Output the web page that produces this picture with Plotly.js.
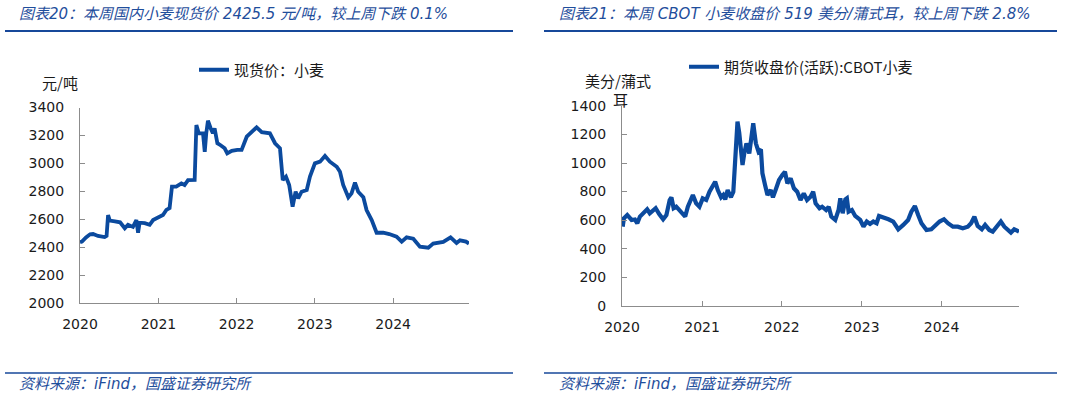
<!DOCTYPE html>
<html>
<head>
<meta charset="utf-8">
<script src="https://cdn.plot.ly/plotly-3.0.1.min.js"></script>
<style>
html,body{margin:0;padding:0;background:#fff;}
#chart{width:1065px;height:398px;}
</style>
</head>
<body>
<div id="chart"></div>
<script>
// ---- Data ----
const yearTicks = ["2020-01-01","2021-01-01","2022-01-01","2023-01-01","2024-01-01"];
const yearLabels = ["2020","2021","2022","2023","2024"];

const spotDates = [
"2020-01-01","2020-01-10","2020-01-29","2020-02-17","2020-03-02","2020-03-25","2020-04-25","2020-05-04","2020-05-11","2020-05-19",
"2020-06-12","2020-07-06","2020-07-28","2020-08-12","2020-09-04","2020-09-20","2020-09-28","2020-10-05","2020-10-29","2020-11-21",
"2020-12-07","2020-12-30","2021-01-22","2021-02-07","2021-02-22","2021-03-05","2021-03-25","2021-04-18","2021-05-03","2021-05-19",
"2021-06-19","2021-06-27","2021-07-08","2021-07-28","2021-08-05","2021-08-12","2021-08-20","2021-09-02","2021-09-12","2021-09-20",
"2021-10-03","2021-10-18","2021-11-06","2021-11-18","2021-12-09","2022-01-04","2022-01-24","2022-02-17","2022-03-12","2022-04-04",
"2022-04-28","2022-06-05","2022-06-29","2022-07-22","2022-08-04","2022-08-19","2022-09-03","2022-09-19","2022-10-03","2022-10-15",
"2022-10-31","2022-11-24","2022-12-09","2023-01-01","2023-01-25","2023-02-17","2023-03-12","2023-04-13","2023-04-28","2023-05-13",
"2023-06-06","2023-06-21","2023-07-07","2023-07-22","2023-08-15","2023-08-30","2023-09-23","2023-10-16","2023-11-16","2023-12-14",
"2024-01-17","2024-02-10","2024-03-04","2024-04-04","2024-05-05","2024-06-13","2024-07-06","2024-07-29","2024-08-22","2024-09-25",
"2024-10-23","2024-11-08","2024-12-06","2024-12-20"];
const spotValues = [
2435,2440,2470,2492,2494,2480,2472,2480,2630,2590,
2585,2578,2535,2560,2545,2594,2503,2575,2572,2560,
2594,2610,2630,2666,2680,2833,2833,2857,2845,2880,
2881,3275,3215,3215,3083,3215,3306,3250,3215,3250,
3144,3130,3108,3072,3090,3096,3096,3191,3227,3258,
3223,3215,3144,3108,2881,2905,2845,2690,2797,2750,
2797,2809,2905,3000,3012,3053,3012,2976,2940,2845,
2757,2785,2862,2797,2757,2666,2594,2503,2503,2494,
2475,2439,2470,2460,2403,2396,2425,2430,2437,2470,
2430,2449,2440,2425.5];

const cbotDates = [
"2020-01-04","2020-01-10","2020-01-25","2020-02-14","2020-02-29","2020-03-11","2020-03-23","2020-04-14","2020-04-25","2020-05-07",
"2020-05-22","2020-06-03","2020-06-19","2020-07-07","2020-07-22","2020-08-06","2020-08-14","2020-08-24","2020-09-05","2020-09-20",
"2020-10-06","2020-10-16","2020-10-28","2020-11-13","2020-11-20","2020-12-05","2020-12-20","2021-01-04","2021-01-20","2021-02-04",
"2021-02-19","2021-03-02","2021-03-14","2021-03-29","2021-04-08","2021-04-17","2021-04-28","2021-05-13","2021-05-24","2021-05-30",
"2021-06-05","2021-06-12","2021-06-20","2021-06-28","2021-07-05","2021-07-13","2021-07-23","2021-08-05","2021-08-15","2021-08-23",
"2021-09-04","2021-09-16","2021-09-27","2021-10-04","2021-10-16","2021-10-27","2021-11-11","2021-11-21","2021-12-04","2021-12-19",
"2022-01-03","2022-01-15","2022-01-26","2022-02-10","2022-02-25","2022-03-12","2022-03-27","2022-04-11","2022-04-26","2022-05-12",
"2022-05-24","2022-06-04","2022-06-22","2022-07-04","2022-07-22","2022-08-03","2022-08-15","2022-09-02","2022-09-17","2022-09-25",
"2022-10-06","2022-10-18","2022-10-25","2022-11-02","2022-11-17","2022-12-02","2022-12-25","2023-01-09","2023-01-24","2023-02-08",
"2023-02-23","2023-03-10","2023-03-21","2023-04-10","2023-05-03","2023-05-25","2023-06-17","2023-07-10","2023-08-01","2023-08-16",
"2023-09-01","2023-09-16","2023-10-01","2023-10-24","2023-11-15","2023-12-01","2023-12-23","2024-01-12","2024-01-30","2024-02-22",
"2024-03-15","2024-04-07","2024-04-30","2024-05-15","2024-05-30","2024-06-14","2024-07-03","2024-07-18","2024-08-06","2024-08-22",
"2024-09-10","2024-09-28","2024-10-14","2024-11-01","2024-11-13","2024-11-28","2024-12-20"];
const cbotValues = [
554,613,636,601,604,578,625,659,676,648,
671,683,643,606,636,741,760,683,694,671,
648,625,694,741,776,718,694,752,741,799,
834,869,811,760,776,745,811,760,799,928,
1091,1290,1213,1068,986,1068,1138,1068,1162,1279,
1138,1080,1096,928,846,776,811,760,815,881,
916,939,858,893,823,799,741,788,741,764,
799,718,683,694,671,694,624,601,671,753,
648,745,753,659,671,629,601,554,590,573,
590,578,629,620,606,590,536,566,601,659,
699,636,578,531,536,559,590,606,578,554,
554,543,554,578,624,559,536,566,531,519,
554,590,554,531,512,536,519];

const spotName = "现货价：小麦";
const cbotName = "期货收盘价(活跃):CBOT小麦";

// ---- Styling ----
const W = 1065, H = 398;
const px = x => x / W;
const py = y => 1 - y / H;
const lineBlue = "#0b4a9e";
const titleBlue = "#1f4e9c";
const axisGray = "#8c8c8c";
const numFont = {family: "DejaVu Sans, Verdana, sans-serif", size: 14, color: "#1a1a1a"};
const cjkFont = {family: "Noto Sans CJK SC, sans-serif", size: 15, color: "#1a1a1a"};
const titleFont = {family: "DejaVu Sans, Noto Sans CJK SC, sans-serif", size: 15, color: titleBlue};

function xAxis(domain, anchor) {
  return {
    domain: domain, anchor: anchor, type: "date",
    range: ["2020-01-01", "2024-12-20"],
    tickvals: yearTicks, ticktext: yearLabels,
    showline: true, linecolor: axisGray, linewidth: 1,
    ticks: "inside", ticklen: 5, tickcolor: axisGray,
    showgrid: false, zeroline: false, tickfont: numFont,
    ticklabelstandoff: 8, fixedrange: true
  };
}
function yAxis(domain, anchor, range) {
  return {
    domain: domain, anchor: anchor, range: range, dtick: 200,
    showline: true, linecolor: axisGray, linewidth: 1,
    ticks: "inside", ticklen: 5, tickcolor: axisGray,
    showgrid: false, zeroline: false, tickfont: numFont,
    ticklabelstandoff: 12, fixedrange: true
  };
}

const traces = [
  {x: spotDates, y: spotValues, type: "scatter", mode: "lines", name: spotName,
   line: {color: lineBlue, width: 3.8}, xaxis: "x", yaxis: "y", legend: "legend"},
  {x: cbotDates, y: cbotValues, type: "scatter", mode: "lines", name: cbotName,
   line: {color: lineBlue, width: 4.2}, xaxis: "x2", yaxis: "y2", legend: "legend2"}
];

const layout = {
  width: W, height: H,
  margin: {l: 0, r: 0, t: 0, b: 0},
  paper_bgcolor: "#fff", plot_bgcolor: "#fff",
  showlegend: true,
  xaxis: xAxis([px(80), px(469)], "y"),
  yaxis: yAxis([py(303), py(107.5)], "x", [2000, 3400]),
  xaxis2: xAxis([px(622), px(1019)], "y2"),
  yaxis2: yAxis([py(305.7), py(106)], "x2", [0, 1400]),
  legend: {x: px(194), y: py(70), xanchor: "left", yanchor: "middle",
           orientation: "h", font: cjkFont, bgcolor: "rgba(0,0,0,0)", borderwidth: 0},
  legend2: {x: px(684), y: py(67), xanchor: "left", yanchor: "middle",
           orientation: "h", font: cjkFont, bgcolor: "rgba(0,0,0,0)", borderwidth: 0},
  shapes: [
    {type: "line", xref: "paper", yref: "paper", x0: px(5), x1: px(513), y0: py(31), y1: py(31), line: {color: "#17489a", width: 2.2}},
    {type: "line", xref: "paper", yref: "paper", x0: px(544), x1: px(1057), y0: py(31), y1: py(31), line: {color: "#17489a", width: 2.2}},
    {type: "line", xref: "paper", yref: "paper", x0: px(5), x1: px(513), y0: py(373), y1: py(373), line: {color: "#17489a", width: 1.5}},
    {type: "line", xref: "paper", yref: "paper", x0: px(544), x1: px(1057), y0: py(373), y1: py(373), line: {color: "#17489a", width: 1.5}}
  ],
  annotations: [
    {xref: "paper", yref: "paper", x: px(17), y: py(14), xanchor: "left", yanchor: "middle", showarrow: false,
     text: "<i>图表20：本周国内小麦现货价 2425.5 元/吨，较上周下跌 0.1%</i>", font: titleFont},
    {xref: "paper", yref: "paper", x: px(557), y: py(14), xanchor: "left", yanchor: "middle", showarrow: false,
     text: "<i>图表21：本周 CBOT 小麦收盘价 519 美分/蒲式耳，较上周下跌 2.8%</i>", font: titleFont},
    {xref: "paper", yref: "paper", x: px(17), y: py(384), xanchor: "left", yanchor: "middle", showarrow: false,
     text: "<i>资料来源：iFind，国盛证券研究所</i>", font: titleFont},
    {xref: "paper", yref: "paper", x: px(557), y: py(384), xanchor: "left", yanchor: "middle", showarrow: false,
     text: "<i>资料来源：iFind，国盛证券研究所</i>", font: titleFont},
    {xref: "paper", yref: "paper", x: px(60), y: py(82), xanchor: "center", yanchor: "middle", showarrow: false,
     text: "元/吨", font: cjkFont},
    {xref: "paper", yref: "paper", x: px(618), y: py(80), xanchor: "center", yanchor: "middle", showarrow: false,
     text: "美分/蒲式", font: cjkFont},
    {xref: "paper", yref: "paper", x: px(620), y: py(100), xanchor: "center", yanchor: "middle", showarrow: false,
     text: "耳", font: cjkFont}
  ]
};

Plotly.newPlot("chart", traces, layout, {displayModeBar: false, staticPlot: true});
</script>
</body>
</html>
